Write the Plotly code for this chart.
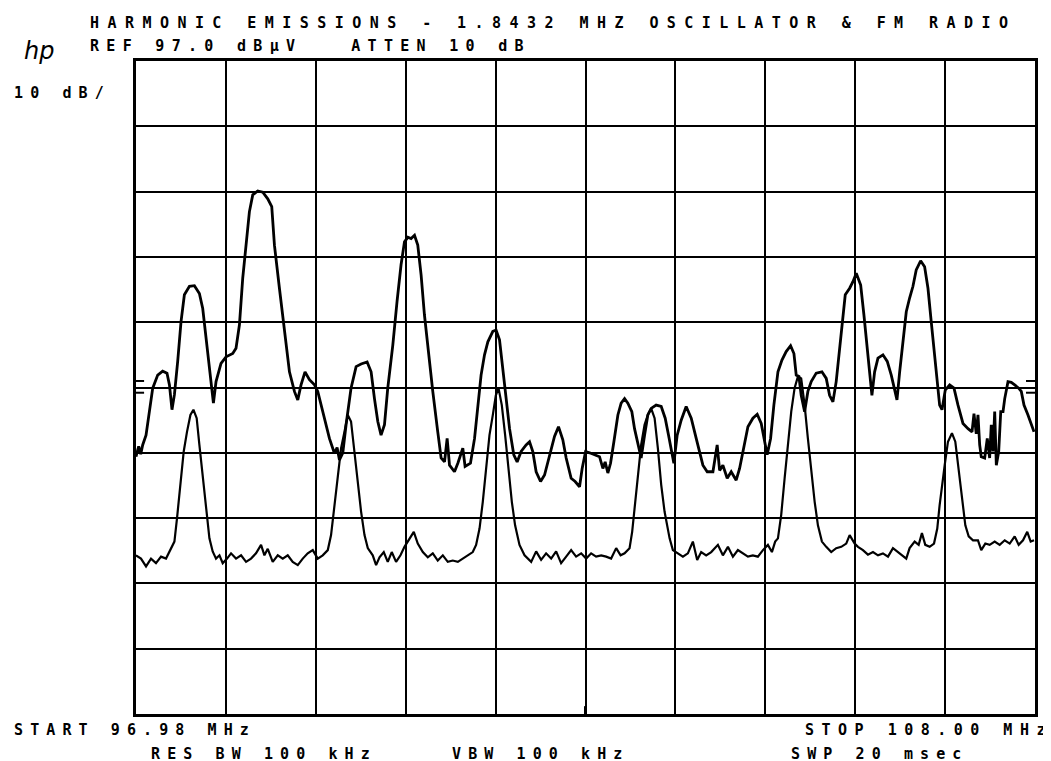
import plotly.graph_objects as go

# ---- instrument settings ----
start_mhz = 96.98
stop_mhz = 108.00
ref_dbuv = 97.0
db_per_div = 10

# ---- upper trace (oscillator + FM radio) ----
upper_mhz = [96.980, 97.013, 97.038, 97.062, 97.103, 97.144, 97.185, 97.246, 97.307, 97.360,
             97.390, 97.421, 97.451, 97.491, 97.532, 97.573, 97.635, 97.696, 97.757, 97.798,
             97.838, 97.880, 97.929, 97.961, 98.022, 98.084, 98.166, 98.206, 98.248, 98.288,
             98.329, 98.370, 98.411, 98.472, 98.534, 98.595, 98.644, 98.677, 98.738, 98.800,
             98.861, 98.922, 98.963, 99.003, 99.052, 99.106, 99.168, 99.208, 99.290, 99.351,
             99.413, 99.445, 99.474, 99.515, 99.555, 99.616, 99.678, 99.739, 99.813, 99.862,
             99.903, 99.944, 99.984, 100.026, 100.066, 100.128, 100.180, 100.229, 100.271, 100.312,
             100.352, 100.394, 100.434, 100.475, 100.516, 100.565, 100.618, 100.679, 100.720, 100.762,
             100.794, 100.823, 100.884, 100.925, 100.986, 101.014, 101.080, 101.130, 101.170, 101.210,
             101.252, 101.293, 101.354, 101.394, 101.436, 101.476, 101.517, 101.559, 101.611, 101.652,
             101.701, 101.762, 101.804, 101.844, 101.885, 101.939, 101.988, 102.049, 102.110, 102.159,
             102.212, 102.253, 102.314, 102.363, 102.417, 102.449, 102.491, 102.540, 102.601, 102.662,
             102.703, 102.731, 102.764, 102.797, 102.838, 102.887, 102.927, 102.969, 103.009, 103.058,
             103.091, 103.132, 103.172, 103.214, 103.254, 103.295, 103.356, 103.418, 103.467, 103.508,
             103.548, 103.573, 103.614, 103.663, 103.724, 103.786, 103.847, 103.888, 103.929, 103.982,
             104.052, 104.104, 104.134, 104.174, 104.227, 104.276, 104.337, 104.379, 104.432, 104.481,
             104.542, 104.595, 104.644, 104.686, 104.717, 104.759, 104.799, 104.849, 104.898, 104.950,
             105.004, 105.045, 105.073, 105.106, 105.134, 105.176, 105.216, 105.257, 105.318, 105.388,
             105.441, 105.482, 105.523, 105.563, 105.605, 105.646, 105.674, 105.728, 105.768, 105.809,
             105.863, 105.903, 105.944, 105.977, 106.001, 106.034, 106.075, 106.136, 106.189, 106.238,
             106.280, 106.308, 106.341, 106.381, 106.422, 106.463, 106.504, 106.544, 106.598, 106.647,
             106.688, 106.728, 106.770, 106.802, 106.831, 106.860, 106.900, 106.954, 107.007, 107.056,
             107.117, 107.179, 107.228, 107.252, 107.280, 107.301, 107.322, 107.341, 107.383, 107.415,
             107.444, 107.464, 107.485, 107.506, 107.526, 107.555, 107.580, 107.608, 107.629, 107.669,
             107.709, 107.751, 107.800, 107.832, 107.865, 107.914, 107.955, 107.988]
upper_dbuv = [36.4, 38.0, 36.8, 38.2, 39.7, 43.4, 46.9, 48.9, 49.5, 49.2,
              47.4, 43.6, 45.9, 51.0, 57.1, 61.2, 62.5, 62.6, 61.4, 59.1,
              54.5, 49.4, 44.6, 47.9, 50.7, 51.7, 52.2, 53.0, 56.6, 63.7,
              69.3, 73.9, 76.5, 77.1, 76.9, 75.9, 74.7, 68.8, 62.2, 56.1,
              49.4, 46.4, 45.1, 47.4, 49.4, 48.2, 47.4, 46.4, 42.3, 39.2,
              36.9, 37.8, 35.9, 37.0, 41.3, 46.9, 50.2, 50.6, 50.9, 49.4,
              45.3, 41.8, 39.7, 41.3, 46.9, 53.5, 60.2, 65.8, 69.3, 70.0,
              69.8, 70.3, 68.8, 64.2, 58.1, 52.0, 46.4, 40.2, 36.2, 35.6,
              39.2, 35.1, 34.1, 35.4, 37.7, 34.9, 35.4, 39.2, 44.3, 48.9,
              52.0, 54.0, 55.6, 55.8, 54.3, 49.9, 44.8, 40.7, 36.7, 35.6,
              37.2, 38.2, 38.7, 37.2, 34.1, 32.6, 33.6, 36.7, 39.5, 41.0,
              39.0, 36.2, 33.1, 32.6, 31.8, 34.6, 37.2, 37.0, 36.7, 36.4,
              34.6, 35.6, 33.9, 35.4, 38.7, 42.8, 44.6, 45.3, 44.6, 43.3,
              40.7, 38.2, 36.2, 39.7, 42.8, 43.8, 44.3, 44.1, 42.3, 39.7,
              36.7, 35.4, 39.7, 42.0, 44.1, 42.3, 39.2, 37.2, 35.1, 34.1,
              34.1, 38.2, 34.3, 35.1, 33.1, 34.1, 32.8, 34.6, 38.2, 41.0,
              42.3, 42.9, 41.5, 38.7, 36.7, 39.2, 44.3, 49.4, 51.2, 52.5,
              53.4, 52.2, 48.9, 48.7, 45.8, 43.3, 46.4, 47.9, 49.2, 49.4,
              48.4, 45.8, 44.8, 47.9, 53.0, 58.1, 61.2, 62.2, 63.2, 64.5,
              62.7, 58.1, 53.0, 48.9, 45.8, 49.4, 51.5, 52.0, 51.0, 48.9,
              46.4, 45.1, 49.4, 54.5, 58.6, 60.7, 62.5, 65.0, 66.4, 65.5,
              62.2, 57.1, 52.0, 47.9, 44.3, 43.6, 46.6, 47.4, 46.9, 44.3,
              41.5, 40.7, 40.2, 43.0, 39.9, 42.8, 38.2, 36.4, 36.2, 39.2,
              36.2, 41.3, 37.2, 43.3, 35.1, 37.2, 43.3, 43.3, 45.3, 47.9,
              47.8, 47.4, 46.9, 46.4, 44.3, 42.8, 41.3, 40.2]

# ---- lower trace (oscillator harmonics only) ----
lower_mhz = [96.980, 97.041, 97.103, 97.164, 97.225, 97.287, 97.348, 97.409, 97.451, 97.483,
             97.524, 97.565, 97.605, 97.647, 97.684, 97.724, 97.757, 97.798, 97.838, 97.880,
             97.920, 97.961, 98.003, 98.043, 98.096, 98.145, 98.206, 98.268, 98.329, 98.390,
             98.451, 98.513, 98.554, 98.595, 98.656, 98.718, 98.779, 98.840, 98.901, 98.963,
             99.024, 99.085, 99.147, 99.208, 99.269, 99.331, 99.371, 99.413, 99.453, 99.494,
             99.535, 99.576, 99.616, 99.658, 99.698, 99.739, 99.781, 99.821, 99.882, 99.923,
             99.965, 100.017, 100.066, 100.115, 100.168, 100.222, 100.271, 100.332, 100.385, 100.434,
             100.496, 100.557, 100.618, 100.679, 100.741, 100.802, 100.863, 100.925, 100.986, 101.047,
             101.108, 101.149, 101.191, 101.231, 101.272, 101.313, 101.354, 101.391, 101.424, 101.464,
             101.505, 101.546, 101.587, 101.627, 101.681, 101.743, 101.824, 101.885, 101.946, 102.007,
             102.069, 102.130, 102.191, 102.253, 102.314, 102.375, 102.437, 102.498, 102.559, 102.620,
             102.682, 102.743, 102.804, 102.866, 102.920, 102.969, 103.030, 103.062, 103.091, 103.132,
             103.172, 103.214, 103.254, 103.295, 103.337, 103.377, 103.418, 103.459, 103.521, 103.561,
             103.622, 103.684, 103.745, 103.806, 103.859, 103.908, 103.969, 104.031, 104.113, 104.174,
             104.236, 104.297, 104.358, 104.419, 104.481, 104.542, 104.603, 104.665, 104.726, 104.775,
             104.815, 104.849, 104.889, 104.931, 104.971, 105.012, 105.053, 105.094, 105.134, 105.176,
             105.216, 105.257, 105.299, 105.339, 105.388, 105.441, 105.502, 105.563, 105.625, 105.686,
             105.728, 105.789, 105.830, 105.891, 105.952, 106.014, 106.075, 106.136, 106.198, 106.259,
             106.320, 106.381, 106.422, 106.463, 106.525, 106.574, 106.614, 106.655, 106.709, 106.762,
             106.802, 106.831, 106.860, 106.893, 106.933, 106.982, 107.023, 107.065, 107.105, 107.146,
             107.187, 107.240, 107.301, 107.341, 107.391, 107.444, 107.506, 107.567, 107.629, 107.690,
             107.751, 107.800, 107.853, 107.905, 107.947, 107.988]
lower_dbuv = [21.3, 20.8, 19.6, 20.8, 20.1, 21.1, 20.8, 22.3, 23.4, 27.0,
              32.1, 37.2, 40.2, 42.8, 43.6, 42.3, 38.2, 33.1, 28.0, 23.9,
              21.9, 20.8, 21.3, 20.1, 20.8, 21.6, 20.8, 21.3, 20.3, 20.8,
              21.6, 22.9, 21.3, 22.3, 20.3, 21.3, 20.8, 21.3, 20.3, 19.8,
              20.8, 21.6, 22.1, 20.8, 21.3, 22.1, 24.4, 29.0, 34.1, 37.7,
              40.2, 42.8, 41.8, 37.2, 32.1, 28.0, 24.4, 22.4, 21.3, 19.8,
              21.0, 21.8, 20.3, 21.8, 20.3, 21.3, 22.6, 23.9, 24.9, 23.1,
              21.8, 21.0, 21.6, 20.5, 21.3, 20.3, 20.5, 20.3, 20.8, 21.3,
              21.8, 22.9, 25.4, 29.5, 34.6, 39.7, 42.8, 45.8, 46.9, 44.3,
              39.7, 34.6, 29.5, 25.9, 22.9, 21.3, 20.3, 21.9, 20.6, 21.6,
              20.8, 21.9, 20.1, 21.1, 22.1, 21.1, 21.6, 20.8, 21.6, 21.1,
              21.3, 21.1, 20.8, 22.4, 21.3, 21.6, 22.4, 24.9, 28.5, 33.6,
              38.2, 41.3, 42.8, 43.8, 42.3, 37.7, 32.1, 28.0, 23.9, 22.1,
              21.6, 21.1, 21.6, 23.4, 20.6, 21.8, 21.3, 21.8, 22.9, 21.3,
              22.6, 21.1, 22.1, 21.6, 21.1, 21.3, 21.1, 22.1, 22.9, 21.8,
              23.4, 23.9, 27.5, 33.1, 38.7, 43.3, 46.9, 48.7, 48.4, 44.3,
              39.2, 34.1, 29.5, 25.9, 23.4, 22.6, 21.8, 22.4, 22.6, 23.1,
              24.4, 23.1, 22.6, 22.1, 21.4, 21.8, 21.3, 21.6, 21.1, 22.4,
              21.8, 21.1, 20.8, 22.4, 23.4, 22.9, 24.7, 22.9, 22.6, 23.1,
              25.4, 29.0, 32.1, 35.1, 38.7, 40.0, 38.7, 34.1, 29.5, 25.9,
              24.2, 23.6, 23.6, 22.1, 23.1, 22.9, 23.4, 22.9, 23.6, 23.1,
              24.2, 22.9, 23.6, 24.9, 23.4, 23.6]

# graticule edge reference marks (dBuV)
edge_mark_dbuv = [48.0, 46.2]

# ---- annotation texts ----
title_text = "HARMONIC EMISSIONS - 1.8432 MHZ OSCILLATOR & FM RADIO"
ref_text = "REF 97.0 dBµV   ATTEN 10 dB"
scale_text = "10 dB/"
start_text = "START 96.98 MHz"
stop_text = "STOP 108.00 MHz"
rbw_text = "RES BW 100 kHz"
vbw_text = "VBW 100 kHz"
swp_text = "SWP 20 msec"

W, H = 1051, 761
L, R, T, B = 128, 24, 53, 55
pw, ph = W - L - R, H - T - B


def px(x):
    return (x - L) / pw


def py(y):
    return (H - B - y) / ph


fig = go.Figure()
fig.add_trace(go.Scatter(x=lower_mhz, y=lower_dbuv, mode="lines",
                         line=dict(color="black", width=2.2), hoverinfo="skip"))
fig.add_trace(go.Scatter(x=upper_mhz, y=upper_dbuv, mode="lines",
                         line=dict(color="black", width=2.8), hoverinfo="skip"))

span = stop_mhz - start_mhz
bottom = ref_dbuv - 10 * db_per_div
fig.update_xaxes(range=[start_mhz, stop_mhz], tick0=start_mhz, dtick=span / 10,
                 showgrid=True, gridcolor="black", gridwidth=2, showticklabels=False,
                 ticks="", zeroline=False, showline=True, linecolor="black",
                 linewidth=2.5, mirror=True)
fig.update_yaxes(range=[bottom, ref_dbuv], tick0=bottom, dtick=db_per_div,
                 showgrid=True, gridcolor="black", gridwidth=2, showticklabels=False,
                 ticks="", zeroline=False, showline=True, linecolor="black",
                 linewidth=2.5, mirror=True)

for v in edge_mark_dbuv:
    fig.add_shape(type="line", xref="x domain", yref="y", x0=0, x1=0.009, y0=v, y1=v,
                  line=dict(color="black", width=2))
    fig.add_shape(type="line", xref="x domain", yref="y", x0=0.99, x1=1, y0=v, y1=v,
                  line=dict(color="black", width=2))
# centre-frequency marker at bottom edge
fig.add_shape(type="line", xref="x", yref="y domain", x0=(start_mhz + stop_mhz) / 2,
              x1=(start_mhz + stop_mhz) / 2, y0=0, y1=0.012, line=dict(color="black", width=3))

FONT = "DejaVu Sans Mono"


def txt(s, x, y, spacing=7.1, size=15):
    fig.add_annotation(text=f'<span style="letter-spacing:{spacing}px">{s}</span>',
                       xref="paper", yref="paper", x=px(x), y=py(y),
                       xanchor="left", yanchor="middle", showarrow=False,
                       font=dict(family=FONT, size=size, color="black", weight="bold"))


txt(title_text, 80, 15, spacing=8.45)
txt(ref_text, 80, 38, spacing=7.3)
txt(scale_text, 4, 85)
txt(start_text, 4, 722)
txt(stop_text, 795, 722, spacing=7.5)
txt(rbw_text, 141, 746)
txt(vbw_text, 442, 746)
txt(swp_text, 781, 746)
fig.add_annotation(text="<i>hp</i>", xref="paper", yref="paper", x=px(14), y=py(43),
                   xanchor="left", yanchor="middle", showarrow=False,
                   font=dict(family="DejaVu Sans", size=24, color="black"))

fig.update_layout(width=W, height=H, margin=dict(l=L, r=R, t=T, b=B),
                  paper_bgcolor="white", plot_bgcolor="white", showlegend=False)

fig.write_html("out.html")
